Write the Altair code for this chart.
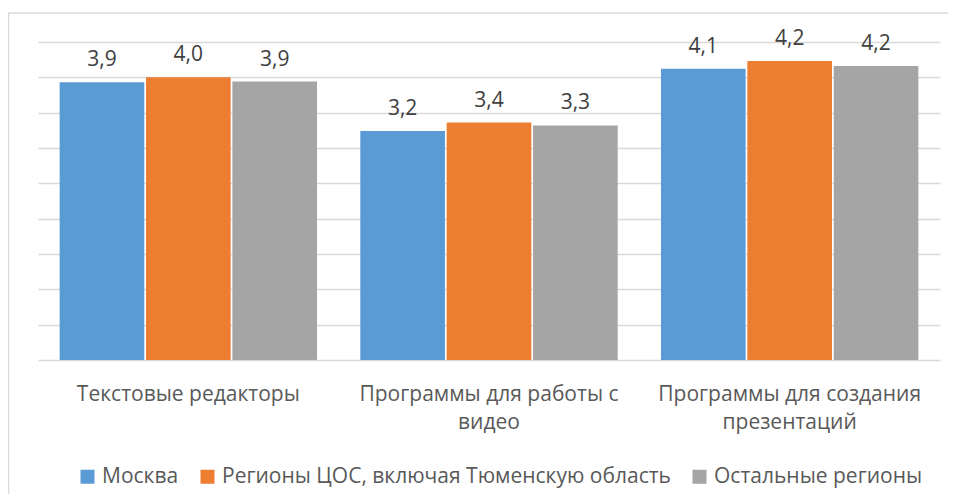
import textwrap
import altair as alt
import pandas as pd

categories = [
    "Текстовые редакторы",
    "Программы для работы с видео",
    "Программы для создания презентаций",
]
series = ["Москва", "Регионы ЦОС, включая Тюменскую область", "Остальные регионы"]
moscow = [3.93, 3.24, 4.12]
cos_regions = [4.00, 3.36, 4.23]
other_regions = [3.94, 3.32, 4.16]
colors = ["#5B9BD5", "#ED7D31", "#A5A5A5"]
grid_values = [0, 0.5, 1, 1.5, 2, 2.5, 3, 3.5, 4, 4.5]

rows = []
for s, vals in zip(series, [moscow, cos_regions, other_regions]):
    for c, v in zip(categories, vals):
        rows.append({"cat": c, "series": s, "value": v,
                     "label": f"{v:.1f}".replace(".", ",")})
df = pd.DataFrame(rows)

# multi-line axis labels
expr = "datum.label"
for c in reversed(categories):
    lines = textwrap.wrap(c, 24)
    arr = "[" + ",".join("'" + l + "'" for l in lines) + "]"
    expr = f"datum.value == '{c}' ? {arr} : " + expr

W, H = 902, 318
FONT = "Open Sans"
FS = 21

x = alt.X("cat:N", sort=categories,
          scale=alt.Scale(paddingInner=0.144, paddingOuter=0.072),
          axis=alt.Axis(title=None, labelAngle=0, domain=False, ticks=False,
                        labelExpr=expr, labelFontSize=FS, labelColor="#595959",
                        labelFont=FONT, labelPadding=23, labelLineHeight=28,
                        labelLimit=0, grid=False))
xo = alt.XOffset("series:N", sort=series, scale=alt.Scale(paddingInner=0.02))
y = alt.Y("value:Q", scale=alt.Scale(domain=[0, 4.5], nice=False, zero=True),
          axis=alt.Axis(title=None, labels=False, ticks=False, domain=False,
                        values=grid_values, grid=True, gridColor="#D9D9D9",
                        gridWidth=1.3))
color = alt.Color("series:N", sort=series,
                  scale=alt.Scale(domain=series, range=colors),
                  legend=alt.Legend(title=None, orient="none", legendX=39,
                                    legendY=424, direction="horizontal",
                                    symbolType="square", symbolSize=196,
                                    symbolStrokeWidth=0, labelFontSize=FS,
                                    labelColor="#595959", labelFont=FONT,
                                    columnPadding=18, labelOffset=4, labelLimit=0))

base = alt.Chart(df)
bars = base.mark_bar().encode(x=x, xOffset=xo, y=y, color=color)
labels = base.mark_text(dy=-16, baseline="alphabetic", fontSize=FS,
                        color="#404040", font=FONT).encode(
    x=x, xOffset=xo, y=y, text="label:N")

frame_df = pd.DataFrame({"a": [0]})
left_border = alt.Chart(frame_df).mark_rule(color="#D9D9D9", strokeWidth=1.5).encode(
    x=alt.value(-29.5), y=alt.value(-29), y2=alt.value(H + 140))
top_border = alt.Chart(frame_df).mark_rule(color="#D9D9D9", strokeWidth=1.5).encode(
    x=alt.value(-29.5), x2=alt.value(W + 10), y=alt.value(-29))

chart = alt.layer(left_border, top_border, bars, labels).properties(
    width=W, height=H,
    background="white",
    autosize=alt.AutoSizeParams(type="none"),
    padding={"left": 30, "top": 34, "right": 8, "bottom": 134},
).configure_view(stroke="transparent", strokeWidth=0)

chart.save("out.html", embed_options={"renderer": "svg", "actions": False})
